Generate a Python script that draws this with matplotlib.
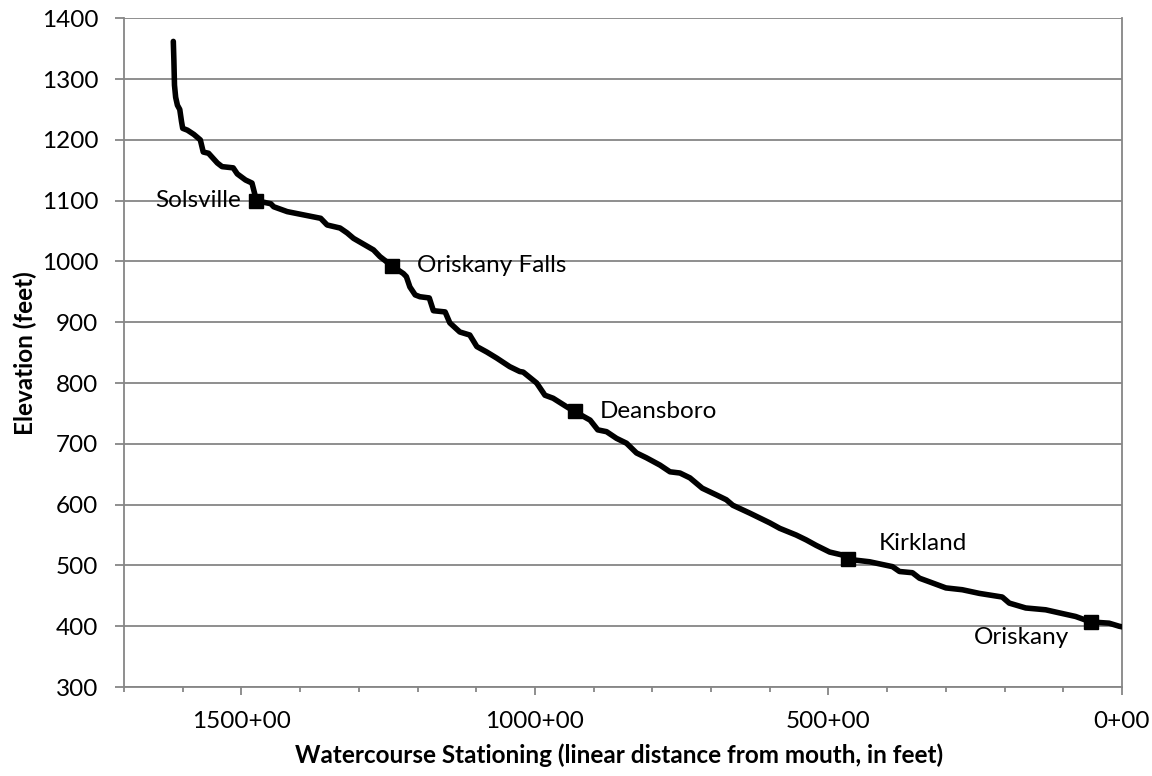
import matplotlib
matplotlib.use("Agg")
import matplotlib.pyplot as plt
from matplotlib.ticker import MultipleLocator, FixedLocator

plt.rcParams['font.family'] = ['Lato', 'DejaVu Sans']

# Stationing (hundreds of feet from mouth) and elevation (feet)
station = [1616, 1615, 1614, 1612, 1609, 1605, 1602, 1600, 1592, 1581, 1570, 1565, 1556,
           1541, 1533, 1514, 1507, 1493, 1482, 1477, 1475, 1450, 1445, 1422, 1365, 1354,
           1332, 1320, 1309, 1275, 1264, 1244, 1224, 1219, 1213, 1204, 1196, 1180, 1173,
           1153, 1145, 1128, 1111, 1099, 1082, 1065, 1043, 1026, 1020, 997, 983, 969, 946,
           932, 906, 893, 878, 861, 844, 827, 810, 787, 770, 753, 736, 715, 691, 674, 663,
           634, 617, 600, 583, 555, 538, 521, 498, 476, 466, 430, 391, 379, 357, 345, 328,
           300, 272, 243, 204, 192, 164, 130, 107, 79, 53, 22, 5, 0]
elevation = [1362, 1330, 1290, 1270, 1257, 1250, 1230, 1219, 1216, 1209, 1200, 1180, 1178,
             1162, 1156, 1154, 1144, 1134, 1129, 1110, 1100, 1095, 1090, 1082, 1071, 1060,
             1055, 1047, 1038, 1019, 1008, 993, 980, 975, 958, 945, 942, 940, 919,
             917, 899, 884, 879, 860, 851, 841, 827, 819, 818, 800, 780, 775, 761,
             753, 739, 723, 720, 709, 701, 685, 677, 665, 654, 652, 644, 627, 616, 608, 599,
             586, 578, 570, 561, 550, 542, 533, 522, 517, 510, 506, 498, 490, 488, 479, 473,
             463, 460, 454, 448, 438, 430, 427, 422, 416, 407, 405, 400, 399]

towns = ['Solsville', 'Oriskany Falls', 'Deansboro', 'Kirkland', 'Oriskany']
town_station = [1475, 1244, 932, 466, 53]
town_elev = [1100, 993, 754, 510, 407]

x_ticks_major = [0, 500, 1000, 1500]
x_tick_labels = ['0+00', '500+00', '1000+00', '1500+00']

fig = plt.figure(figsize=(11.52, 7.76), dpi=100)
ax = fig.add_axes([124/1152, 1-687/776, (1122-124)/1152, (687-18.3)/776])

grid_c = '#868686'
ax.plot(station, elevation, color='black', lw=4.0, solid_joinstyle='round',
        solid_capstyle='round', zorder=3)
ax.plot(town_station, town_elev, ls='none', marker='s', ms=10, color='black', zorder=4)

label_cfg = [((-11, 0), 'right', 'center'),
             ((18, 0), 'left', 'center'),
             ((18, 0), 'left', 'center'),
             ((22, 11.5), 'left', 'center'),
             ((-50, -11), 'center', 'center')]
for name, xs, ys, (off, ha, va) in zip(towns, town_station, town_elev, label_cfg):
    ax.annotate(name, (xs, ys), xytext=off, textcoords='offset points',
                ha=ha, va=va, fontsize=17.5, color='black', zorder=5)

ax.set_xlim(1700, 0)
ax.set_ylim(300, 1400)
ax.yaxis.set_major_locator(MultipleLocator(100))
ax.xaxis.set_major_locator(FixedLocator(x_ticks_major))
ax.set_xticklabels(x_tick_labels)
ax.xaxis.set_minor_locator(MultipleLocator(100))

ax.grid(axis='y', color=grid_c, lw=1.3, zorder=1)
for s in ['left', 'bottom', 'right']:
    ax.spines[s].set_color(grid_c)
    ax.spines[s].set_linewidth(1.3)
ax.spines['top'].set_visible(False)

ax.tick_params(axis='y', which='major', length=6.5, width=1.3, color=grid_c,
               pad=12, labelsize=17.5, labelcolor='black')
ax.tick_params(axis='x', which='major', length=6, width=1.3, color=grid_c,
               pad=11, labelsize=17.5, labelcolor='black')
ax.tick_params(axis='x', which='minor', length=3.5, width=1.3, color=grid_c)

fig.text(619/1152, 1-755/776, 'Watercourse Stationing (linear distance from mouth, in feet)',
         ha='center', va='center', fontsize=17.5, fontweight='bold')
fig.text(25/1152, 1-353/776, 'Elevation (feet)', rotation=90,
         ha='center', va='center', fontsize=17.5, fontweight='bold')

fig.savefig('out.png', dpi=100, facecolor='white')
